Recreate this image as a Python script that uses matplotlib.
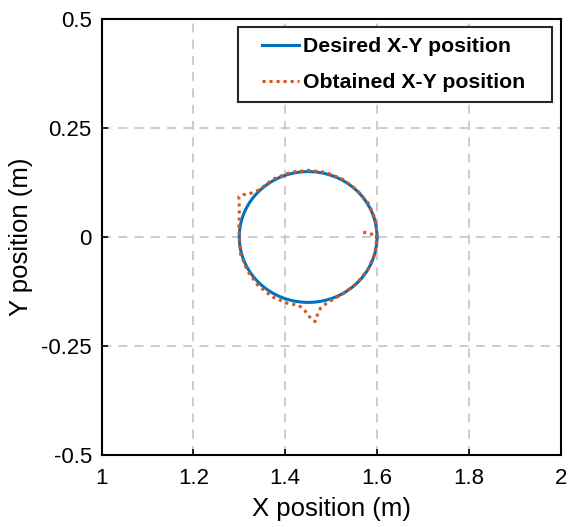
import numpy as np
import matplotlib
matplotlib.use("Agg")
import matplotlib.pyplot as plt
from matplotlib.legend_handler import HandlerLine2D

plt.rcParams['font.family'] = ['Liberation Sans', 'DejaVu Sans']

# Desired trajectory: circle
center_x = 1.45
center_y = 0.0
radius = 0.15

# Obtained trajectory
obt_x = [1.570, 1.583, 1.594, 1.600, 1.597, 1.582, 1.557, 1.526, 1.489, 1.450,
         1.411, 1.374, 1.343, 1.322, 1.308, 1.299, 1.300, 1.300, 1.299, 1.303,
         1.318, 1.340, 1.371, 1.405, 1.430, 1.442, 1.456, 1.465, 1.470, 1.477,
         1.491, 1.525, 1.556, 1.580, 1.595, 1.600]
obt_y = [0.011, 0.008, 0.005, 0.000, 0.039, 0.076, 0.107, 0.132, 0.148, 0.153,
         0.148, 0.133, 0.108, 0.099, 0.097, 0.092, 0.070, 0.045, 0.020, -0.040,
         -0.078, -0.110, -0.137, -0.152, -0.157, -0.168, -0.187, -0.194, -0.179, -0.163,
         -0.151, -0.131, -0.106, -0.075, -0.039, 0.000]

xticks = [1, 1.2, 1.4, 1.6, 1.8, 2]
xticklabels = ['1', '1.2', '1.4', '1.6', '1.8', '2']
yticks = [-0.5, -0.25, 0, 0.25, 0.5]
yticklabels = ['-0.5', '-0.25', '0', '0.25', '0.5']


class OffsetLineHandler(HandlerLine2D):
    """Line handle drawn with blank space on its left (MATLAB-like legend)."""
    def __init__(self, offset=0.7, **kw):
        super().__init__(**kw)
        self.offset = offset

    def create_artists(self, legend, orig_handle, xdescent, ydescent,
                       width, height, fontsize, trans):
        off = self.offset * fontsize
        return super().create_artists(legend, orig_handle, xdescent - off, ydescent,
                                      width - off, height, fontsize, trans)


fig = plt.figure(figsize=(5.69, 5.27), dpi=100)
ax = fig.add_axes([0.1784, 0.1366, 0.8070, 0.8274])

theta = np.linspace(0, 2 * np.pi, 400)
l1, = ax.plot(center_x + radius * np.cos(theta), center_y + radius * np.sin(theta),
              color='#0072BD', lw=2.2, label='Desired X-Y position   ', zorder=3)
l2, = ax.plot(obt_x, obt_y, color='#D95319', lw=2.2, linestyle=(0, (1, 1.3)),
              label='Obtained X-Y position   ', zorder=4)

ax.set_xlim(1, 2)
ax.set_ylim(-0.5, 0.5)
ax.set_xticks(xticks)
ax.set_xticklabels(xticklabels)
ax.set_yticks(yticks)
ax.set_yticklabels(yticklabels)
ax.tick_params(direction='in', length=4, width=1.2, labelsize=16, colors='black')
ax.tick_params(axis='x', pad=9)
ax.tick_params(axis='y', pad=7)
ax.grid(True, color='#c8c8c8', linestyle=(0, (5, 4)), lw=1.3)
ax.set_axisbelow(True)
for s in ax.spines.values():
    s.set_linewidth(1.5)

ax.set_xlabel('X position (m)', fontsize=18.5, labelpad=6)
ax.set_ylabel('Y position (m)', fontsize=18.5, labelpad=6)

leg = ax.legend(handles=[l1, l2], loc='upper right', prop={'weight': 'bold', 'size': 15.3},
                fancybox=False, edgecolor='#262626', framealpha=1,
                handlelength=2.4, borderaxespad=0.4, borderpad=0.45, labelspacing=0.8,
                handletextpad=0.2,
                handler_map={l1: OffsetLineHandler(0.7), l2: OffsetLineHandler(0.7)})
leg.get_frame().set_linewidth(1.5)

fig.savefig('out.png', dpi=100)
